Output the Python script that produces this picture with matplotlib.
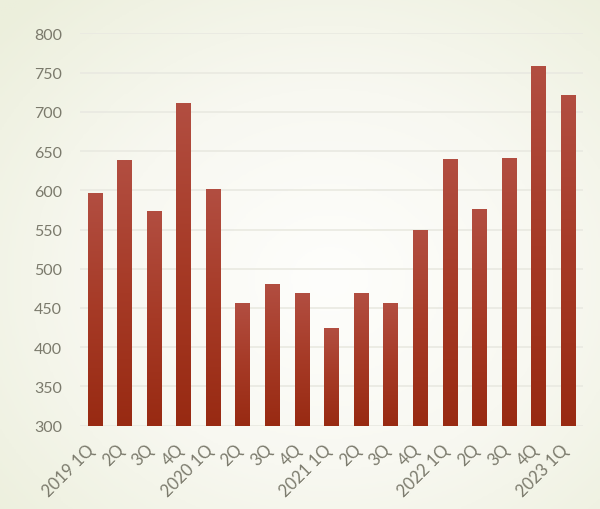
import numpy as np
import matplotlib
matplotlib.use("Agg")
import matplotlib.pyplot as plt
import matplotlib.transforms as mtransforms
from matplotlib.colors import LinearSegmentedColormap

# 분기별 값
quarters = ["2019 1Q", "2Q", "3Q", "4Q", "2020 1Q", "2Q", "3Q", "4Q",
            "2021 1Q", "2Q", "3Q", "4Q", "2022 1Q", "2Q", "3Q", "4Q", "2023 1Q"]
values = [596, 638, 574, 711, 601, 456, 480, 469,
          425, 469, 456, 549, 640, 576, 641, 758, 722]

TEXT = "#7b7a6c"

fig = plt.figure(figsize=(6, 5.1), dpi=100)

# 배경: 가운데가 밝은 방사형 그라데이션
bg = fig.add_axes([0, 0, 1, 1], zorder=-10)
yy, xx = np.mgrid[0:1:256j, 0:1:256j]
dist = np.sqrt(((xx - 0.55) / 0.75) ** 2 + ((yy - 0.45) / 0.75) ** 2)
bg_cmap = LinearSegmentedColormap.from_list("bg", ["#fefefc", "#f8f8f1", "#ecefdc"])
bg.imshow(np.clip(dist, 0, 1), cmap=bg_cmap, extent=[0, 1, 0, 1],
          origin="lower", aspect="auto", vmin=0, vmax=1)
bg.axis("off")

ax = fig.add_axes([0.1333, 0.1633, 0.8383, 0.7694])
ax.patch.set_alpha(0)

x = np.arange(len(values))
bars = ax.bar(x, values, width=0.49, color="#a83c2a", zorder=3, edgecolor="none")

# 막대 세로 그라데이션
bar_cmap = LinearSegmentedColormap.from_list("bar", ["#982a12", "#a63a26", "#b24e41"])
grad = np.linspace(0, 1, 256).reshape(-1, 1)
for b in bars:
    x0, w, h = b.get_x(), b.get_width(), b.get_height()
    im = ax.imshow(grad, cmap=bar_cmap, extent=[x0, x0 + w, 300, h],
                   origin="lower", aspect="auto", zorder=4)
    im.set_clip_path(b)

ax.set_xlim(-0.5, len(values) - 0.5)
ax.set_ylim(300, 800)
ax.set_yticks(np.arange(300, 801, 50))
ax.yaxis.grid(True, color="#e9e9e1", linewidth=1.2, zorder=0)
ax.set_axisbelow(True)
for s in ax.spines.values():
    s.set_visible(False)

ax.set_xticks(x)
ax.set_xticklabels(quarters, rotation=45, ha="right", rotation_mode="anchor")
ax.tick_params(axis="both", length=0, labelsize=11.5, labelcolor=TEXT)
ax.tick_params(axis="y", pad=13)
ax.tick_params(axis="x", pad=11)
shift = mtransforms.ScaledTranslation(-6 / 72, 0, fig.dpi_scale_trans)
for lbl in ax.get_xticklabels():
    lbl.set_transform(lbl.get_transform() + shift)
    lbl.set_fontsize(12)
for lbl in ax.get_xticklabels() + ax.get_yticklabels():
    lbl.set_family(["Lato", "DejaVu Sans"])

fig.savefig("out.png", dpi=100)
